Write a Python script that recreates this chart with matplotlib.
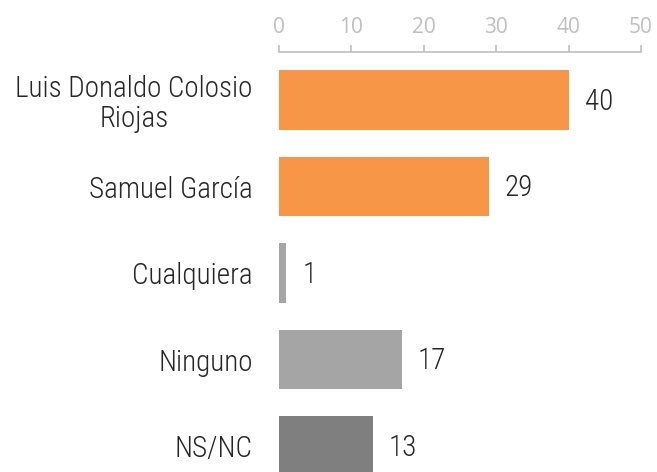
import matplotlib.pyplot as plt

categories = ["Luis Donaldo Colosio\nRiojas", "Samuel García", "Cualquiera", "Ninguno", "NS/NC"]
values = [40, 29, 1, 17, 13]
colors = ["#F79646", "#F79646", "#A5A5A5", "#A5A5A5", "#7F7F7F"]
ticks = [0, 10, 20, 30, 40, 50]

plt.rcParams['font.family'] = ['Roboto Condensed', 'Roboto', 'DejaVu Sans']

fig = plt.figure(figsize=(6.57, 4.72), dpi=100)
ax = fig.add_axes([279 / 657, 0, (641 - 279) / 657, 1 - 52 / 472])

pos = list(range(len(values)))
ax.barh(pos, values, height=0.69, color=colors)
ax.set_xlim(0, 50)
ax.set_ylim(4.30, -0.555)

for y, v in zip(pos, values):
    ax.text(v + 2.2, y + 0.02, str(v), va="center", ha="left", fontsize=21,
            fontweight="light", color="#262626")

ax.set_yticks(pos)
ax.set_yticklabels(categories, fontsize=21, fontweight="light", color="#262626",
                   linespacing=1.1, multialignment="center")
ax.tick_params(axis="y", length=0, pad=19)

ax.xaxis.tick_top()
ax.set_xticks(ticks)
ax.tick_params(axis="x", direction="out", length=5, width=1.2, color="#BFBFBF",
               labelcolor="#BFBFBF", labelsize=15, pad=5)
for lab in ax.get_xticklabels():
    lab.set_family(["Open Sans", "DejaVu Sans"])

for s in ["bottom", "left", "right"]:
    ax.spines[s].set_visible(False)
ax.spines["top"].set_color("#BFBFBF")
ax.spines["top"].set_linewidth(1.2)

fig.savefig("out.png", dpi=100)
